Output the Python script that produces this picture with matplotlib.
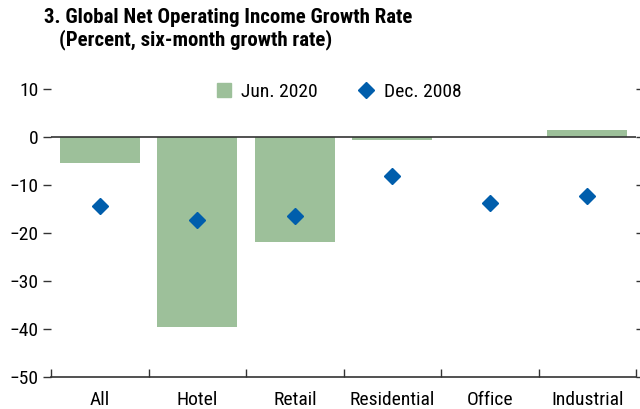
import matplotlib
matplotlib.use("Agg")
import matplotlib.pyplot as plt
from matplotlib.lines import Line2D
import numpy as np

categories = ["All", "Hotel", "Retail", "Residential", "Office", "Industrial"]
jun_2020 = [-5.4, -39.7, -21.9, -0.7, 0.0, 1.4]
dec_2008 = [-14.4, -17.3, -16.4, -8.2, -13.7, -12.3]
yticks = [10, 0, -10, -20, -30, -40, -50]

font = ["Roboto Condensed", "DejaVu Sans"]
plt.rcParams["font.family"] = font

green = "#9dc09a"
blue = "#005eac"

fig = plt.figure(figsize=(6.4, 4.09), dpi=100)
ax = fig.add_axes([0.08, 0.079, 0.914, 0.762])

x = np.arange(len(categories))
ax.bar(x, jun_2020, width=0.82, color=green, zorder=2)
ax.plot(x, dec_2008, linestyle="none", marker="D", markersize=8.3, color=blue, zorder=3)
ax.axhline(0, color="#333333", linewidth=1.2, zorder=4)

ax.set_xlim(-0.5, len(categories) - 0.5)
ax.set_ylim(-50, 15)
ax.set_yticks(yticks)
ax.set_yticklabels([str(v).replace("-", "\u2212") for v in yticks], fontsize=14)
ax.set_xticks(x)
ax.set_xticklabels(categories, fontsize=14)
ax.tick_params(axis="x", length=0, pad=10)
ax.set_xticks(np.arange(-0.5, len(categories)), minor=True)
ax.tick_params(axis="x", which="minor", direction="in", length=6, width=1, color="#333333")
ax.tick_params(axis="y", direction="out", length=6, width=1, color="#333333", pad=3,
               right=True, labelright=False)

for s in ["left", "right", "top"]:
    ax.spines[s].set_visible(False)
ax.spines["bottom"].set_color("#333333")
ax.spines["bottom"].set_linewidth(1.2)

handles = [
    Line2D([], [], linestyle="none", marker="s", markersize=10, color=green),
    Line2D([], [], linestyle="none", marker="D", markersize=8.3, color=blue),
]
ax.legend(handles, ["Jun. 2020", "Dec. 2008"], loc="upper center", bbox_to_anchor=(0.49, 1.0),
          ncol=2, frameon=False, fontsize=14, handletextpad=0.4, columnspacing=2.0,
          handlelength=1.0)

fig.text(0.068, 0.957, "3. Global Net Operating Income Growth Rate", fontsize=15,
         fontweight="bold", va="center", ha="left")
fig.text(0.092, 0.902, "(Percent, six-month growth rate)", fontsize=15,
         fontweight="bold", va="center", ha="left")

fig.savefig("out.png", dpi=100)
